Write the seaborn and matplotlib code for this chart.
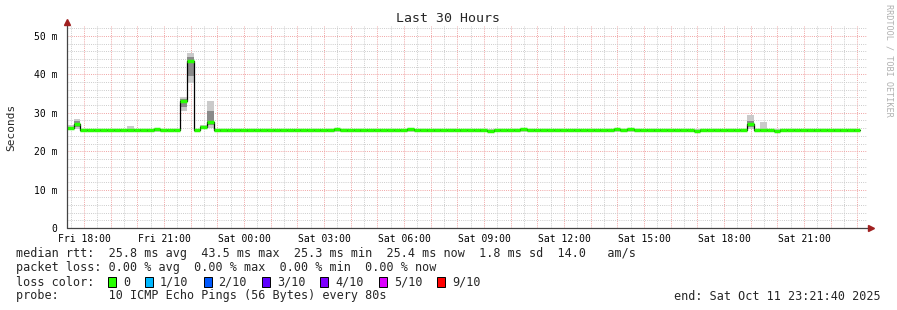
import matplotlib
matplotlib.use("Agg")
import matplotlib.pyplot as plt
import matplotlib.ticker as mticker
from matplotlib.lines import Line2D
from matplotlib.patches import Rectangle
import numpy as np
import pandas as pd
import seaborn as sns

# ---------------- data ----------------
start_hour = 17 + 21 / 60 + 40 / 3600   # Fri 17:21:40, hours since Fri 00:00
span_hours = 30
step_hours = 0.25

median = [
    26.0, 27.2, 25.5, 25.5, 25.5, 25.5, 25.6, 25.5, 25.5, 25.6,
    25.5, 25.5, 25.4, 25.8, 25.5, 25.5, 25.5, 33.1, 43.5, 25.5,
    26.2, 27.7, 25.5, 25.4, 25.4, 25.5, 25.5, 25.4, 25.5, 25.5,
    25.5, 25.6, 25.5, 25.5, 25.5, 25.6, 25.6, 25.5, 25.6, 25.6,
    25.8, 25.5, 25.4, 25.5, 25.4, 25.5, 25.5, 25.6, 25.6, 25.5,
    25.6, 25.8, 25.6, 25.5, 25.4, 25.4, 25.5, 25.5, 25.5, 25.4,
    25.5, 25.5, 25.4, 25.3, 25.5, 25.5, 25.6, 25.6, 25.7, 25.5,
    25.5, 25.5, 25.5, 25.5, 25.5, 25.5, 25.5, 25.5, 25.6, 25.5,
    25.5, 25.5, 25.8, 25.5, 25.8, 25.5, 25.5, 25.5, 25.4, 25.5,
    25.5, 25.5, 25.5, 25.5, 25.3, 25.4, 25.5, 25.5, 25.5, 25.6,
    25.5, 25.5, 27.0, 25.5, 25.5, 25.5, 25.3, 25.5, 25.5, 25.5,
    25.5, 25.4, 25.4, 25.5, 25.5, 25.4, 25.4, 25.4, 25.4,
]
smoke_hi = [
    26.7, 28.4, 25.9, 25.9, 25.9, 25.9, 25.9, 25.9, 25.9, 26.5,
    25.9, 25.9, 25.9, 26.1, 25.9, 25.9, 25.9, 34.0, 45.7, 25.9,
    26.8, 33.1, 25.9, 25.9, 25.9, 25.9, 25.9, 25.9, 25.9, 25.9,
    25.9, 25.9, 25.9, 25.9, 25.9, 25.9, 25.9, 25.9, 25.9, 25.9,
    26.1, 25.9, 25.9, 25.9, 25.9, 25.9, 25.9, 25.9, 25.9, 25.9,
    25.9, 26.1, 25.9, 25.9, 25.9, 25.9, 25.9, 25.9, 25.9, 25.9,
    25.9, 25.9, 25.9, 25.9, 25.9, 25.9, 25.9, 25.9, 26.0, 25.9,
    25.9, 25.9, 25.9, 25.9, 25.9, 25.9, 25.9, 25.9, 25.9, 25.9,
    25.9, 25.9, 26.1, 25.9, 26.1, 25.9, 25.9, 25.9, 25.9, 25.9,
    25.9, 25.9, 25.9, 25.9, 25.9, 25.9, 25.9, 25.9, 25.9, 25.9,
    25.9, 25.9, 29.3, 25.9, 27.7, 25.9, 25.9, 25.9, 25.9, 25.9,
    25.9, 25.9, 25.9, 25.9, 25.9, 25.9, 25.9, 25.9, 25.9,
]
smoke_lo = [
    25.6, 25.8, 25.1, 25.1, 25.1, 25.1, 25.1, 25.1, 25.1, 25.1,
    25.1, 25.1, 25.1, 25.1, 25.1, 25.1, 25.1, 30.5, 37.8, 25.1,
    25.8, 26.0, 25.1, 25.1, 25.1, 25.1, 25.1, 25.1, 25.1, 25.1,
    25.1, 25.1, 25.1, 25.1, 25.1, 25.1, 25.1, 25.1, 25.1, 25.1,
    25.1, 25.1, 25.1, 25.1, 25.1, 25.1, 25.1, 25.1, 25.1, 25.1,
    25.1, 25.1, 25.1, 25.1, 25.1, 25.1, 25.1, 25.1, 25.1, 25.1,
    25.1, 25.1, 25.1, 25.0, 25.1, 25.1, 25.1, 25.1, 25.1, 25.1,
    25.1, 25.1, 25.1, 25.1, 25.1, 25.1, 25.1, 25.1, 25.1, 25.1,
    25.1, 25.1, 25.1, 25.1, 25.1, 25.1, 25.1, 25.1, 25.1, 25.1,
    25.1, 25.1, 25.1, 25.1, 25.0, 25.1, 25.1, 25.1, 25.1, 25.1,
    25.1, 25.1, 25.7, 25.1, 25.1, 25.1, 25.0, 25.1, 25.1, 25.1,
    25.1, 25.1, 25.1, 25.1, 25.1, 25.1, 25.1, 25.1, 25.1,
]
inner_hi = [
    26.3, 27.8, 25.7, 25.7, 25.7, 25.7, 25.8, 25.7, 25.7, 25.9,
    25.7, 25.7, 25.7, 25.9, 25.7, 25.7, 25.7, 33.6, 44.5, 25.7,
    26.5, 30.5, 25.7, 25.7, 25.7, 25.7, 25.7, 25.7, 25.7, 25.7,
    25.7, 25.8, 25.7, 25.7, 25.7, 25.8, 25.8, 25.7, 25.8, 25.8,
    25.9, 25.7, 25.7, 25.7, 25.7, 25.7, 25.7, 25.8, 25.8, 25.7,
    25.8, 25.9, 25.8, 25.7, 25.7, 25.7, 25.7, 25.7, 25.7, 25.7,
    25.7, 25.7, 25.7, 25.6, 25.7, 25.7, 25.8, 25.8, 25.9, 25.7,
    25.7, 25.7, 25.7, 25.7, 25.7, 25.7, 25.7, 25.7, 25.8, 25.7,
    25.7, 25.7, 25.9, 25.7, 25.9, 25.7, 25.7, 25.7, 25.7, 25.7,
    25.7, 25.7, 25.7, 25.7, 25.6, 25.7, 25.7, 25.7, 25.7, 25.8,
    25.7, 25.7, 27.8, 25.7, 25.7, 25.7, 25.6, 25.7, 25.7, 25.7,
    25.7, 25.7, 25.7, 25.7, 25.7, 25.7, 25.7, 25.7, 25.7,
]
inner_lo = [
    25.8, 26.3, 25.2, 25.2, 25.2, 25.2, 25.3, 25.2, 25.2, 25.3,
    25.2, 25.2, 25.1, 25.4, 25.2, 25.2, 25.2, 31.5, 39.5, 25.2,
    26.0, 26.8, 25.2, 25.1, 25.1, 25.2, 25.2, 25.1, 25.2, 25.2,
    25.2, 25.3, 25.2, 25.2, 25.2, 25.3, 25.3, 25.2, 25.3, 25.3,
    25.4, 25.2, 25.1, 25.2, 25.1, 25.2, 25.2, 25.3, 25.3, 25.2,
    25.3, 25.4, 25.3, 25.2, 25.1, 25.1, 25.2, 25.2, 25.2, 25.1,
    25.2, 25.2, 25.1, 25.0, 25.2, 25.2, 25.3, 25.3, 25.4, 25.2,
    25.2, 25.2, 25.2, 25.2, 25.2, 25.2, 25.2, 25.2, 25.3, 25.2,
    25.2, 25.2, 25.4, 25.2, 25.4, 25.2, 25.2, 25.2, 25.1, 25.2,
    25.2, 25.2, 25.2, 25.2, 25.0, 25.1, 25.2, 25.2, 25.2, 25.3,
    25.2, 25.2, 26.2, 25.2, 25.2, 25.2, 25.0, 25.2, 25.2, 25.2,
    25.2, 25.1, 25.1, 25.2, 25.2, 25.1, 25.1, 25.1, 25.1,
]

x_tick_hours = [18, 21, 24, 27, 30, 33, 36, 39, 42, 45]
x_tick_labels = ["Fri 18:00", "Fri 21:00", "Sat 00:00", "Sat 03:00", "Sat 06:00",
                 "Sat 09:00", "Sat 12:00", "Sat 15:00", "Sat 18:00", "Sat 21:00"]
y_ticks = [0, 10, 20, 30, 40, 50]
y_tick_labels = ["0", "10 m", "20 m", "30 m", "40 m", "50 m"]

title = "Last 30 Hours"
y_label = "Seconds"
line_rtt = "median rtt:  25.8 ms avg  43.5 ms max  25.3 ms min  25.4 ms now  1.8 ms sd  14.0   am/s"
line_loss = "packet loss: 0.00 % avg  0.00 % max  0.00 % min  0.00 % now"
loss_head = "loss color:"
loss_labels = ["0", "1/10", "2/10", "3/10", "4/10", "5/10", "9/10"]
loss_colors = ["#26ff00", "#00b8ff", "#0059ff", "#5e00ff", "#7e00ff", "#dd00ff", "#ff0000"]
line_probe = "probe:       10 ICMP Echo Pings (56 Bytes) every 80s"
line_end = "end: Sat Oct 11 23:21:40 2025"
watermark = "RRDTOOL / TOBI OETIKER"

# ---------------- figure ----------------
sns.set_style("white")
plt.rcParams["font.family"] = ["DejaVu Sans Mono", "DejaVu Sans"]

W, H = 897, 310
fig = plt.figure(figsize=(W / 100, H / 100), dpi=100)
fig.patch.set_facecolor("white")

ax_left, ax_right, ax_bottom, ax_top = 67, 867, 228, 26.4
ax = fig.add_axes([ax_left / W, 1 - ax_bottom / H, (ax_right - ax_left) / W,
                   (ax_bottom - ax_top) / H])
ax.set_facecolor("white")

n = len(median)
t = [start_hour + k * step_hours for k in range(n)]
df = pd.DataFrame({"t": t, "median": median, "lo": smoke_lo, "hi": smoke_hi,
                   "ilo": inner_lo, "ihi": inner_hi})

# smoke
ax.bar(df["t"], df["hi"] - df["lo"], bottom=df["lo"], width=step_hours,
       align="edge", color="#cacaca", linewidth=0, zorder=2)
ax.bar(df["t"], df["ihi"] - df["ilo"], bottom=df["ilo"], width=step_hours,
       align="edge", color="#8a8a8a", linewidth=0, zorder=3)

# black step outline of the median
df_line = pd.concat([df[["t", "median"]],
                     pd.DataFrame({"t": [t[-1] + step_hours], "median": [median[-1]]})],
                    ignore_index=True)
sns.lineplot(data=df_line, x="t", y="median", drawstyle="steps-post",
             color="black", linewidth=0.9, ax=ax, zorder=4)
# green (loss 0) median segments
ax.hlines(df["median"], df["t"], df["t"] + step_hours, color=loss_colors[0],
          linewidth=2.5, zorder=5)

ax.set_xlim(start_hour, start_hour + span_hours)
ax.set_ylim(0, 52.5)
ax.set_xlabel("")
ax.set_ylabel("")

# grid
label_map = dict(zip(x_tick_hours, x_tick_labels))
hours = list(range(18, 48))
ax.set_xticks(hours)
ax.set_xticklabels([label_map.get(h, "") for h in hours])
ax.xaxis.set_minor_locator(mticker.MultipleLocator(0.5))
ax.set_yticks(y_ticks)
ax.set_yticklabels(y_tick_labels)
ax.yaxis.set_minor_locator(mticker.MultipleLocator(2))

ax.grid(which="minor", color="#cccccc", linestyle=(0, (1, 1.2)), linewidth=0.7)
ax.grid(which="major", color="#f0a4a4", linestyle=(0, (1, 1.2)), linewidth=0.7)
ax.set_axisbelow(True)

ax.tick_params(which="both", length=0, labelsize=7, colors="black")
ax.tick_params(axis="x", pad=4)
ax.tick_params(axis="y", pad=7)

for s in ["top", "right", "left", "bottom"]:
    ax.spines[s].set_visible(False)

# axes with arrows
ax_col = "#444444"
arrow_col = "#a02020"
fig.add_artist(Line2D([ax_left / W, ax_left / W], [1 - ax_bottom / H, 1 - 23 / H],
                      color=ax_col, linewidth=0.9))
fig.add_artist(Line2D([ax_left / W, 870 / W], [1 - ax_bottom / H, 1 - ax_bottom / H],
                      color=ax_col, linewidth=0.9))
fig.add_artist(Line2D([ax_left / W], [1 - 22 / H], marker="^", color=arrow_col,
                      markersize=4, linestyle="none"))
fig.add_artist(Line2D([871 / W], [1 - ax_bottom / H], marker=">", color=arrow_col,
                      markersize=4, linestyle="none"))

# texts
fs = 8.47
fig.text(448 / W, 1 - 19 / H, title, ha="center", va="center", fontsize=9.5)
fig.text(11 / W, 1 - 127 / H, y_label, rotation=90, ha="center", va="center", fontsize=8)
fig.text(889 / W, 1 - 4 / H, watermark, rotation=270, ha="center", va="top",
         fontsize=6.1, color="#b0b0b0")

fig.text(16 / W, 1 - 254 / H, line_rtt, ha="left", va="center", fontsize=fs)
fig.text(16 / W, 1 - 268 / H, line_loss, ha="left", va="center", fontsize=fs)
fig.text(16 / W, 1 - 282 / H, loss_head, ha="left", va="center", fontsize=fs)
fig.text(16 / W, 1 - 296 / H, line_probe, ha="left", va="center", fontsize=fs)
fig.text(881 / W, 1 - 296 / H, line_end, ha="right", va="center", fontsize=fs)

char_w = 7.1
xb = 108
for lab, col in zip(loss_labels, loss_colors):
    fig.add_artist(Rectangle((xb / W, 1 - 287 / H), 8 / W, 10 / H,
                             facecolor=col, edgecolor="black", linewidth=0.7))
    fig.text((xb + 15) / W, 1 - 282 / H, lab, ha="left", va="center", fontsize=fs)
    xb = xb + 15 + len(lab) * char_w + 15

fig.savefig("out.png", dpi=100, facecolor="white")
